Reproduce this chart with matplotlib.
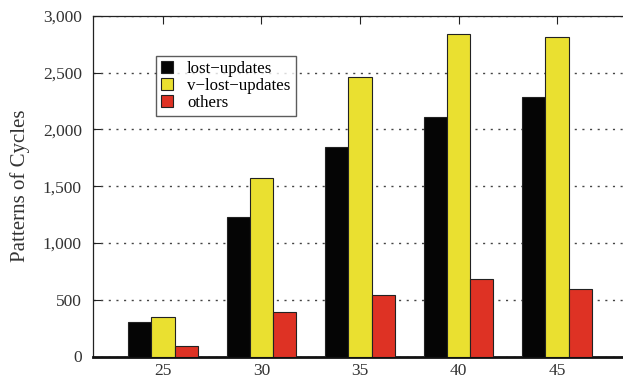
import matplotlib
matplotlib.use("Agg")
import matplotlib.pyplot as plt
import numpy as np

# Cycle-pattern counts per workload size
sizes = [25, 30, 35, 40, 45]
lost_updates = [300, 1230, 1850, 2110, 2285]
v_lost_updates = [350, 1575, 2465, 2838, 2812]
others = [92, 390, 545, 685, 595]

series_names = ["lost\u2212updates", "v\u2212lost\u2212updates", "others"]
series_colors = ["#050505", "#EAE030", "#DE3224"]

plt.rcParams["font.family"] = ["Liberation Serif", "DejaVu Serif"]

fig = plt.figure(figsize=(6.23, 3.86), dpi=100)
W, H = 623, 386
left, right, top, bottom = 93, 627, 16, 356.5
ax = fig.add_axes([left / W, 1 - bottom / H, (right - left) / W, (bottom - top) / H])

x = np.array(sizes, dtype=float)
width = 1.18
for i, (vals, name, col) in enumerate(zip([lost_updates, v_lost_updates, others],
                                          series_names, series_colors)):
    ax.bar(x + (i - 1) * width, vals, width=width, color=col, edgecolor="#222222",
           linewidth=0.8, label=name, zorder=3)

ax.set_xlim(21.45, 48.55)
ax.set_ylim(0, 3000)
ax.set_xticks(sizes)
ax.set_xticklabels([str(s) for s in sizes])
yt = [0, 500, 1000, 1500, 2000, 2500, 3000]
ax.set_yticks(yt)
ax.set_yticklabels([f"{v:,}" for v in yt])

ax.tick_params(axis="both", labelsize=12.5, direction="in", length=6, width=0.8,
               colors="#222222", labelcolor="#333333")
ax.tick_params(axis="x", top=True, bottom=False, pad=5)
ax.tick_params(axis="y", pad=8)

ax.yaxis.grid(True, linestyle=(0, (1.5, 4)), color="#444444", linewidth=1.0, zorder=0)
ax.set_axisbelow(True)

for s in ["left", "top", "right"]:
    ax.spines[s].set_linewidth(0.9)
    ax.spines[s].set_color("#222222")
ax.spines["bottom"].set_linewidth(2.0)
ax.spines["bottom"].set_color("#111111")

ax.set_ylabel("Patterns of Cycles", fontsize=15, labelpad=9, color="#333333")

leg = ax.legend(loc="upper left", bbox_to_anchor=((155.7 - left) / (right - left),
                                                  1 - (56 - top) / (bottom - top)),
                frameon=True, fancybox=False, fontsize=12.2, handlelength=0.75,
                handleheight=0.75, handletextpad=0.8, labelspacing=0.05,
                borderpad=0.3, borderaxespad=0)
leg.get_frame().set_edgecolor("#333333")
leg.get_frame().set_linewidth(1.0)
leg.set_zorder(5)

fig.savefig("out.png", dpi=100)
